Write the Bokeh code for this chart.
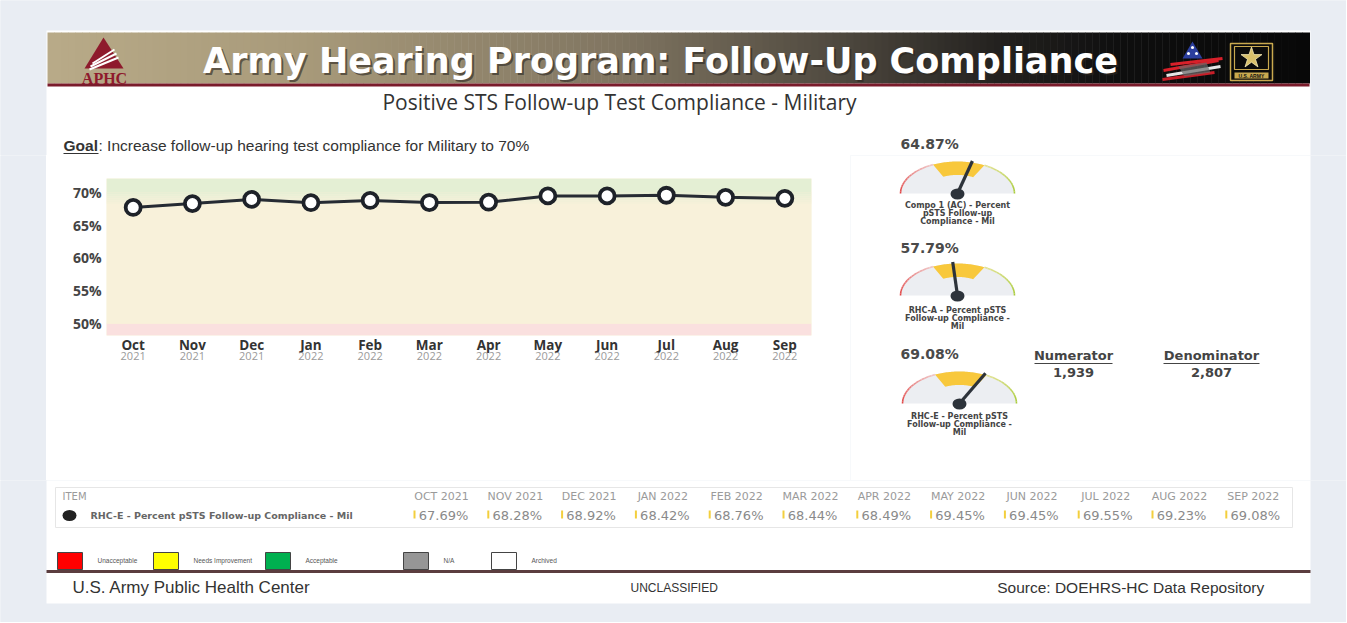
import numpy as np
from bokeh.plotting import figure
from bokeh.models import Range1d, FixedTicker, LinearAxis
from bokeh.layouts import column, row
from bokeh.core.properties import value
from bokeh.embed import file_html
from bokeh.resources import INLINE

# ---------------- data ----------------
months = ["Oct", "Nov", "Dec", "Jan", "Feb", "Mar", "Apr", "May", "Jun", "Jul", "Aug", "Sep"]
years = ["2021", "2021", "2021", "2022", "2022", "2022", "2022", "2022", "2022", "2022", "2022", "2022"]
compliance = [67.69, 68.28, 68.92, 68.42, 68.76, 68.44, 68.49, 69.45, 69.45, 69.55, 69.23, 69.08]
y_ticks = [50, 55, 60, 65, 70]
thresholds = [50, 70]          # unacceptable / goal
goal_text = ": Increase follow-up hearing test compliance for Military to 70%"

gauge_values = [64.87, 57.79, 69.08]
gauge_captions = [["Compo 1 (AC) - Percent", "pSTS Follow-up", "Compliance - Mil"],
                  ["RHC-A - Percent pSTS", "Follow-up Compliance -", "Mil"],
                  ["RHC-E - Percent pSTS", "Follow-up Compliance -", "Mil"]]
numerator = 1939
denominator = 2807
row_label = "RHC-E - Percent pSTS Follow-up Compliance - Mil"
legend_names = ["Unacceptable", "Needs Improvement", "Acceptable", "N/A", "Archived"]
legend_colors = ["#ff0000", "#ffff00", "#00b050", "#969696", "#ffffff"]

# ---------------- style ----------------
BG = "#e9edf3"
DARK = "#262b33"
W = 1346


def T(p, x, y, s, size, color="#333333", font="Liberation Sans", bold=False,
      align="left", baseline="middle", alpha=1.0):
    p.text(x=[x], y=[y], text=[s], text_font=value(font), text_font_size=value(f"{size}px"),
           text_font_style="bold" if bold else "normal", text_color=color,
           text_align=align, text_baseline=baseline, text_alpha=alpha)


def deco(width, height, x0, x1, ytop, ybot):
    p = figure(width=width, height=height, x_range=Range1d(x0, x1), y_range=Range1d(ybot, ytop),
               x_axis_type=None, y_axis_type=None, output_backend="svg", toolbar_location=None,
               min_border=0, min_border_left=0, min_border_right=0, min_border_top=0,
               min_border_bottom=0, outline_line_color=None,
               background_fill_color=BG, border_fill_color=BG)
    # page background drawn past the edges so neighbouring panels join without seams
    p.quad(left=[x0 - 20], right=[x1 + 20], top=[ytop - 20], bottom=[ybot + 20],
           fill_color=BG, line_color=None)
    return p


def lerp_color(stops, f):
    for (f0, c0), (f1, c1) in zip(stops[:-1], stops[1:]):
        if f0 <= f <= f1:
            t = (f - f0) / (f1 - f0) if f1 > f0 else 0
            c = [int(round(a + (b - a) * t)) for a, b in zip(c0, c1)]
            return "#%02x%02x%02x" % tuple(c)
    return "#%02x%02x%02x" % stops[-1][1]


# ---------------- header ----------------
hdr = deco(W, 155, 0, W, 0, 155)
hdr.quad(left=[46], right=[1310], top=[30], bottom=[165], fill_color="white", line_color=None)

stops = [(0.0, (184, 170, 136)), (0.2, (168, 154, 122)), (0.45, (128, 117, 97)),
         (0.62, (80, 74, 64)), (0.75, (35, 33, 31)), (0.85, (14, 14, 14)), (1.0, (8, 8, 8))]
xs = np.linspace(47, 1309, 181)
cols = [lerp_color(stops, (a - 47) / (1309 - 47)) for a in xs[:-1]]
hdr.quad(left=list(xs[:-1]), right=list(xs[1:] + 0.5), top=32, bottom=83,
         fill_color=cols, line_color=None)
hdr.quad(left=[47], right=[1309], top=[83], bottom=[86], fill_color="#7a1b2b", line_color=None)

# APHC logo
hdr.patch(x=[84, 103, 123], y=[68, 37, 68], fill_color="#8e1a2c", line_color=None)
hdr.multi_line(xs=[[92, 114], [90, 116], [89, 118]], ys=[[63, 49], [66, 53], [69, 57]],
               line_color="white", line_width=2)
T(hdr, 104, 78, "APHC", 16, color="#8e1a2c", font="Liberation Serif", bold=True, align="center")

# Title
T(hdr, 662, 62, "Army Hearing Program: Follow-Up Compliance", 35, color="#2a2520",
  font="DejaVu Sans", bold=True, align="center", alpha=0.6)
T(hdr, 660, 60, "Army Hearing Program: Follow-Up Compliance", 35, color="#ffffff",
  font="DejaVu Sans", bold=True, align="center")

# flag logo
hdr.patch(x=[1182, 1192, 1202], y=[58, 41, 58], fill_color="#2c3f9e", line_color=None)
hdr.scatter(x=[1192, 1188, 1196], y=[47, 53, 53], size=3, fill_color="white", line_color=None)
hdr.multi_line(xs=[[1163, 1218], [1166, 1220], [1162, 1214], [1170, 1222]],
               ys=[[70, 60], [75, 66], [79, 72], [64, 58]],
               line_color=["#d8202a", "#e6e6e6", "#c81e28", "#d8202a"], line_width=3)
hdr.patch(x=[1178, 1206, 1210, 1184], y=[66, 62, 72, 76], fill_color="#6a6a6a",
          line_color=None, fill_alpha=0.7)

# Army star logo
hdr.quad(left=[1230], right=[1272], top=[43], bottom=[80], fill_color="#0b0b0b",
         line_color="#c9a94f", line_width=1.5)
hdr.quad(left=[1234], right=[1268], top=[46], bottom=[69], fill_color=None,
         line_color="#c9a94f", line_width=1.2)
hdr.scatter(x=[1251], y=[57.5], marker="star", size=22, fill_color="#d9c06a",
            line_color="#f4e8b5", line_width=0.8)
hdr.quad(left=[1234], right=[1268], top=[72], bottom=[78], fill_color="#c9a94f", line_color=None)
T(hdr, 1251, 75, "U.S. ARMY", 5, color="#111111", bold=True, align="center")

# subtitle
T(hdr, 619, 101, "Positive STS Follow-up Test Compliance - Military", 21, color="#333333",
  font="Open Sans", align="center")

# goal
T(hdr, 63, 145, "Goal", 15.5, color="#333333", bold=True)
T(hdr, 98, 145, goal_text, 15.5, color="#333333")
hdr.segment(x0=[63], y0=[153], x1=[98], y1=[153], line_color="#333333", line_width=1)

# first gauge value label lives in the header band
T(hdr, 900, 143, f"{gauge_values[0]:.2f}%", 14, color="#4a4a4a", font="DejaVu Sans", bold=True)

# ---------------- middle row ----------------
strip = deco(46, 325, 0, 46, 0, 325)

chart = figure(width=804, height=325, x_range=Range1d(-0.45, 11.45), y_range=Range1d(48.2, 72.1),
               x_axis_type=None, y_axis_type=None, output_backend="svg", toolbar_location=None,
               min_border_left=60, min_border_right=39, min_border_top=23, min_border_bottom=145,
               outline_line_color=None, background_fill_color="#f8f1da", border_fill_color="white")
xr, yr = chart.x_range, chart.y_range
chart.quad(left=xr.start, right=xr.end, bottom=[yr.start, thresholds[0], thresholds[1]],
           top=[thresholds[0], thresholds[1], yr.end],
           fill_color=["#fae0df", "#f8f1da", "#e4efd4"], line_color=None)
fade_n = 6
fb = [thresholds[1] - 0.3 * (i + 1) for i in range(fade_n)]
ft = [thresholds[1] - 0.3 * i for i in range(fade_n)]
fc = [lerp_color([(0, (228, 239, 212)), (1, (248, 241, 218))], (i + 1) / (fade_n + 1)) for i in range(fade_n)]
chart.quad(left=xr.start, right=xr.end, bottom=fb, top=ft, fill_color=fc, line_color=None)

idx = list(range(len(months)))
chart.line(x=idx, y=compliance, line_color=DARK, line_width=3)
chart.scatter(x=idx, y=compliance, size=15, fill_color="white", line_color="#1e2229", line_width=3.8)

yax = LinearAxis(ticker=FixedTicker(ticks=y_ticks),
                 major_label_overrides={t: f"{t}%" for t in y_ticks})
mon_ax = LinearAxis(ticker=FixedTicker(ticks=idx),
                    major_label_overrides={i: m for i, m in enumerate(months)})
yr_ax = LinearAxis(ticker=FixedTicker(ticks=idx),
                   major_label_overrides={i: y for i, y in enumerate(years)})
for ax in (yax, mon_ax, yr_ax):
    ax.axis_line_color = None
    ax.major_tick_line_color = None
    ax.minor_tick_line_color = None
    ax.major_tick_out = 0
    ax.major_tick_in = 0
    ax.major_label_text_font = "Open Sans"
yax.major_label_text_font_size = "14px"
yax.major_label_text_font_style = "bold"
yax.major_label_text_color = "#444444"
yax.major_label_standoff = 5
mon_ax.major_label_text_font_size = "13.5px"
mon_ax.major_label_text_font_style = "bold"
mon_ax.major_label_text_color = "#333333"
mon_ax.major_label_standoff = 0
yr_ax.major_label_text_font_size = "11px"
yr_ax.major_label_text_color = "#9a9a9a"
yr_ax.major_label_standoff = -5
chart.add_layout(yax, "left")
chart.add_layout(mon_ax, "below")
chart.add_layout(yr_ax, "below")

# right panel: gauges + numerator/denominator
rf = deco(W - 850, 325, 850, W, 155, 480)
rf.quad(left=[840], right=[1310], top=[145], bottom=[490], fill_color="white", line_color=None)

GMIN, GMAX = 26.0, 93.0


def ang(v):
    return np.pi * (1 - (v - GMIN) / (GMAX - GMIN))


def draw_gauge(p, cx, cy, v, rx=57.0, ry=32.0):
    t = np.linspace(0, np.pi, 80)
    p.patch(x=list(cx + rx * np.cos(t)), y=list(cy - ry * np.sin(t)),
            fill_color="#eceef2", line_color=None)
    a_hi, a_lo = ang(thresholds[1]), ang(thresholds[0])
    t = np.linspace(a_hi, a_lo, 40)
    k = 0.58
    xo = cx + rx * np.cos(t)
    yo = cy - ry * np.sin(t)
    xi = cx + k * rx * np.cos(t[::-1])
    yi = cy - k * ry * np.sin(t[::-1])
    p.patch(x=list(xo) + list(xi), y=list(yo) + list(yi), fill_color="#f8c83c", line_color=None)
    n = 16
    t = np.linspace(np.pi, a_lo, n + 1)
    p.multi_line(xs=[list(cx + rx * np.cos(t[i:i + 2])) for i in range(n)],
                 ys=[list(cy - ry * np.sin(t[i:i + 2])) for i in range(n)],
                 line_color=[lerp_color([(0, (226, 70, 70)), (1, (240, 196, 196))], i / (n - 1)) for i in range(n)],
                 line_width=1.6)
    t = np.linspace(a_hi, 0, n + 1)
    p.multi_line(xs=[list(cx + rx * np.cos(t[i:i + 2])) for i in range(n)],
                 ys=[list(cy - ry * np.sin(t[i:i + 2])) for i in range(n)],
                 line_color=[lerp_color([(0, (226, 226, 150)), (1, (170, 205, 60))], i / (n - 1)) for i in range(n)],
                 line_width=1.6)
    a = ang(v)
    p.segment(x0=[cx], y0=[cy], x1=[cx + 1.05 * rx * np.cos(a)], y1=[cy - 1.05 * ry * np.sin(a)],
              line_color="#2d333b", line_width=3.2)
    p.ellipse(x=[cx], y=[cy + 0.5], width=14, height=11, fill_color="#2d333b", line_color=None)


gauge_pos = [(957, 193), (957, 295), (959, 403)]
value_y = [None, 247, 353]
caption_y = [(205, 213, 221), (310, 318, 326), (416, 424, 432)]
for gi, (v, (cx, cy)) in enumerate(zip(gauge_values, gauge_pos)):
    draw_gauge(rf, cx, cy, v)
    if value_y[gi] is not None:
        T(rf, 900, value_y[gi], f"{v:.2f}%", 14, color="#4a4a4a", font="DejaVu Sans", bold=True)
    for line_txt, ly in zip(gauge_captions[gi], caption_y[gi]):
        T(rf, cx, ly, line_txt, 8, color="#444444", font="DejaVu Sans", bold=True, align="center")

T(rf, 1073, 355, "Numerator", 13, color="#444444", font="DejaVu Sans", bold=True, align="center")
rf.segment(x0=[1034], y0=[363], x1=[1112], y1=[363], line_color="#444444", line_width=1)
T(rf, 1073, 372, f"{numerator:,}", 13, color="#444444", font="DejaVu Sans", bold=True, align="center")
T(rf, 1211, 355, "Denominator", 13, color="#444444", font="DejaVu Sans", bold=True, align="center")
rf.segment(x0=[1163], y0=[363], x1=[1259], y1=[363], line_color="#444444", line_width=1)
T(rf, 1211, 372, f"{denominator:,}", 13, color="#444444", font="DejaVu Sans", bold=True, align="center")

middle = row(strip, column(chart), column(rf))

# ---------------- bottom: table, legend, footer ----------------
bot = deco(W, 142, 0, W, 480, 622)
bot.quad(left=[46], right=[1310], top=[470], bottom=[603], fill_color="white", line_color=None)
bot.quad(left=[55], right=[1292], top=[487], bottom=[527], fill_color=None,
         line_color="#e6e6e6", line_width=1)
T(bot, 62, 496, "ITEM", 10, color="#9a9a9a", font="DejaVu Sans")
col_x = [441 + 73.8 * i for i in range(len(months))]
for cx, m, y, v in zip(col_x, months, years, compliance):
    T(bot, cx, 496, f"{m.upper()} {y}", 11, color="#9a9a9a", font="DejaVu Sans", align="center")
    bot.quad(left=[cx - 28], right=[cx - 26], top=[510], bottom=[518], fill_color="#f3cf3d", line_color=None)
    T(bot, cx + 2, 515, f"{v:.2f}%", 13, color="#8a8a8a", font="DejaVu Sans", align="center")
bot.ellipse(x=[69], y=[515], width=14, height=11, fill_color="#222222", line_color=None)
T(bot, 90, 515, row_label, 9.5, color="#666666", font="DejaVu Sans", bold=True)

leg_x = [57, 153, 265, 403, 491]
for lx, name, c in zip(leg_x, legend_names, legend_colors):
    bot.quad(left=[lx], right=[lx + 25], top=[552], bottom=[569], fill_color=c,
             line_color="#444444", line_width=1)
    T(bot, lx + 40, 560, name, 6.5, color="#555555")
bot.quad(left=[46], right=[1310], top=[569.5], bottom=[572.5], fill_color="#5b3d3f", line_color=None)
T(bot, 72, 587, "U.S. Army Public Health Center", 17, color="#333333")
T(bot, 630, 587, "UNCLASSIFIED", 12, color="#333333")
T(bot, 1268, 587, "Source:  DOEHRS-HC Data Repository", 15.5, color="#333333", align="right")

page = column(hdr, middle, bot)
open("out.html", "w").write(file_html(page, INLINE))
